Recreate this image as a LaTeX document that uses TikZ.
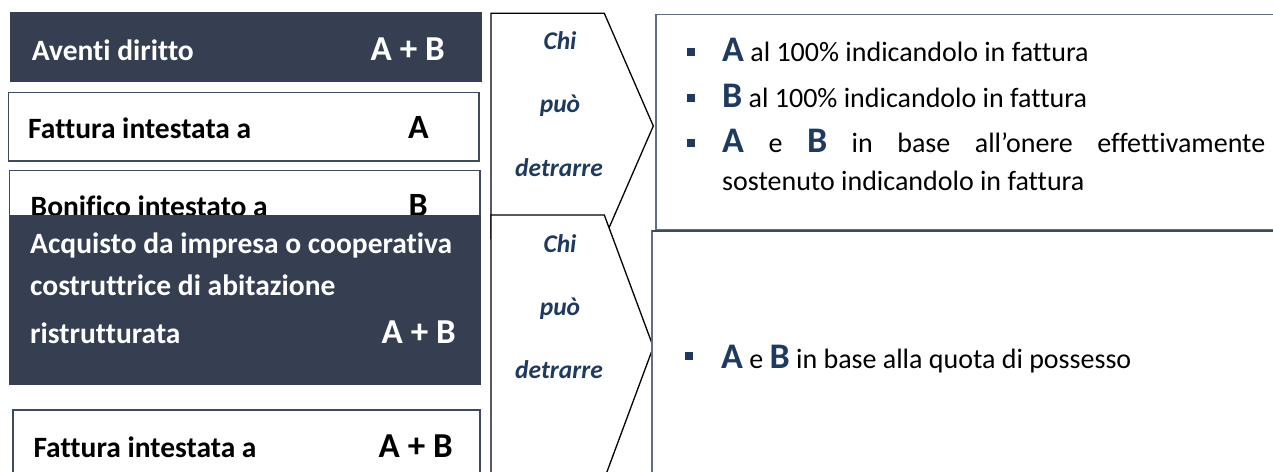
\documentclass[tikz,border=0pt]{standalone}
\usepackage{fontspec}
\setmainfont{Carlito}[Ligatures=NoCommon]
\definecolor{darkbox}{RGB}{53,63,81}
\definecolor{boxline}{RGB}{62,74,94}
\definecolor{rline}{RGB}{95,110,128}
\definecolor{navy}{RGB}{31,58,96}
\tikzset{
  darkrect/.style={fill=darkbox, draw=none},
  whiterect/.style={fill=white, draw=boxline, line width=1.4pt},
  chev/.style={fill=white, draw=black, line width=1.3pt, line join=miter},
  rrect/.style={fill=white, draw=rline, line width=1.2pt},
  ltxt/.style={inner sep=0, anchor=base west, font=\bfseries\fontsize{29.5}{34}\selectfont},
  rab/.style={inner sep=0, anchor=base east, font=\bfseries\fontsize{35}{38}\selectfont},
  chtxt/.style={inner sep=0, anchor=base, text=navy, font=\bfseries\itshape\fontsize{25.5}{30}\selectfont},
  rtxt/.style={inner sep=0, anchor=base west, font=\fontsize{28}{34}\selectfont},
  bul/.style={fill=navy, draw=none, minimum size=8pt, inner sep=0},
}
\newcommand{\BL}[1]{{\color{navy}\bfseries\fontsize{36}{40}\selectfont #1}}
\begin{document}
\begin{tikzpicture}[x=1pt,y=-1pt]
\useasboundingbox (0,0) rectangle (1273,471);
\clip (0,0) rectangle (1273,471);
\fill[white] (0,0) rectangle (1273,471);
% left column
\path[darkrect] (10,12.3) rectangle (482,82.3);
\node[ltxt, text=white] (aventi) at (31.7,60) {Aventi diritto};
\node[rab, text=white] (aventiab) at (445,60) {A + B};
\path[whiterect] (8.3,92.3) rectangle (479,161);
\node[ltxt] (fatt1) at (28,138) {Fattura intestata a};
\node[rab, font=\bfseries\fontsize{34}{38}\selectfont] (fatt1a) at (429,138) {A};
\path[whiterect] (9.7,170.7) rectangle (480,240);
\node[ltxt] (bonif) at (30.5,216) {Bonifico intestato a};
\node[rab, font=\bfseries\fontsize{34}{38}\selectfont] (bonifb) at (428,216) {B};
\path[darkrect] (9,215) rectangle (481,385);
\node[ltxt, text=white] (acq1) at (30,253) {Acquisto da impresa o cooperativa};
\node[ltxt, text=white] (acq2) at (30,295) {costruttrice di abitazione};
\node[ltxt, text=white] (acq3) at (30,343) {ristrutturata};
\node[rab, text=white] (acqab) at (456,343) {A + B};
\path[whiterect] (13,410) rectangle (480,490);
\node[ltxt] (fatt2) at (33.3,457) {Fattura intestata a};
\node[rab] (fatt2ab) at (453,457) {A + B};
% chevrons
\path[chev] (491,13.3) -- (604.3,13.3) -- (653.3,126) -- (604.3,238.7) -- (491,238.7) -- cycle;
\node[chtxt] (chi1) at (560,49) {Chi};
\node[chtxt] (puo1) at (560,112) {può};
\node[chtxt] (det1) at (559,176) {detrarre};
\path[chev] (491,215) -- (604.3,215) -- (653.3,347) -- (604.3,479) -- (491,479) -- cycle;
\node[chtxt] (chi2) at (560,252) {Chi};
\node[chtxt] (puo2) at (560,315) {può};
\node[chtxt] (det2) at (559,378) {detrarre};
% right boxes
\path[rrect] (656,14.3) rectangle (1290,230);
\path[rrect] (652,231) rectangle (1290,490);
\draw[boxline, line width=2pt] (652,231) -- (1290,231);
\node[bul] (b1) at (691,52) {};
\node[rtxt] (r1) at (722,61) {\BL{A} al 100\% indicandolo in fattura};
\node[bul] (b2) at (691,98) {};
\node[rtxt] (r2) at (722,107) {\BL{B} al 100\% indicandolo in fattura};
\node[bul] (b3) at (691,143) {};
\node[rtxt] (r3) at (722,152) {\makebox[543pt][s]{\BL{A} e \BL{B} in base all’onere effettivamente}};
\node[rtxt] (r4) at (722,190) {sostenuto indicandolo in fattura};
\node[bul] (b4) at (689,356) {};
\node[rtxt] (r5) at (721,368) {\BL{A} e \BL{B} in base alla quota di possesso};
\end{tikzpicture}
\end{document}
